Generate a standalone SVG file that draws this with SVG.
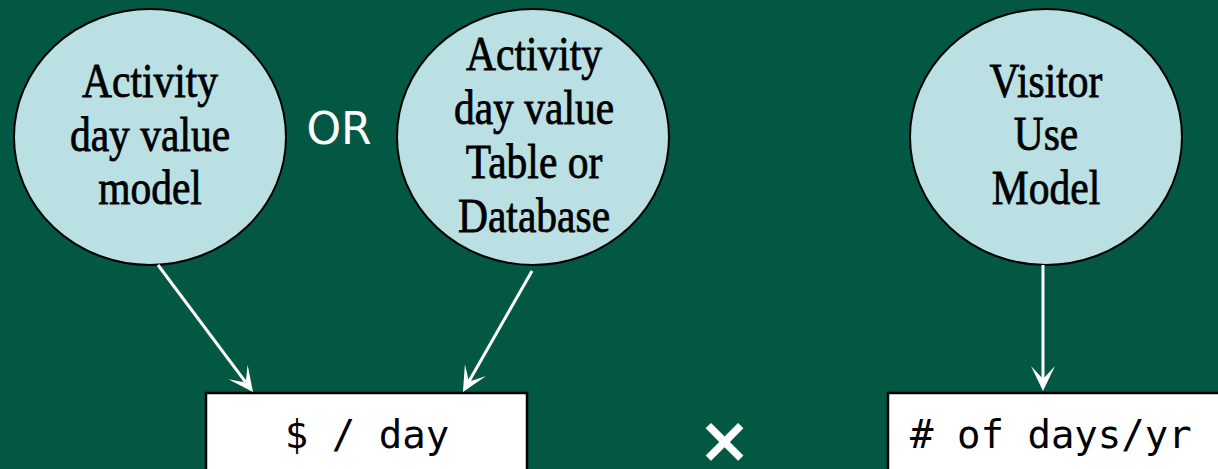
<svg xmlns="http://www.w3.org/2000/svg" width="1218" height="469" viewBox="0 0 1218 469">
<style>
.bubble{fill:#bae0e4;stroke:#000;stroke-width:2}
.lbl{font-family:"Liberation Serif","Times New Roman",serif;font-size:48px;fill:#000;stroke:#000;stroke-width:0.8;text-anchor:middle}
.box{fill:#fff;stroke:#000;stroke-width:2.5}
.mono{font-family:"DejaVu Sans Mono","Liberation Mono",monospace;font-size:39px;fill:#000}
.conn{stroke:#fff;stroke-width:3;fill:none}
</style>
<defs>
<marker id="ah" markerUnits="userSpaceOnUse" markerWidth="40" markerHeight="40" viewBox="-20 -20 40 40" refX="0" refY="0" orient="auto">
<path d="M12,0 L-13,-12 L0,0 L-13,12 Z" fill="#fff"/>
</marker>
</defs>
<rect x="0" y="0" width="1218" height="469" fill="#035844"/>
<g id="node-activity-model">
<ellipse class="bubble" cx="150" cy="137" rx="136" ry="128"/>
<g transform="translate(150,0) scale(0.865,1)">
<text class="lbl" x="0" y="97">Activity</text>
<text class="lbl" x="0" y="151">day value</text>
<text class="lbl" x="0" y="204">model</text>
</g>
</g>
<g id="node-or">
<text x="339" y="144" font-family="DejaVu Sans,sans-serif" font-size="44" fill="#fff" text-anchor="middle">OR</text>
</g>
<g id="node-activity-table">
<ellipse class="bubble" cx="533" cy="137" rx="136" ry="128"/>
<g transform="translate(534,0) scale(0.865,1)">
<text class="lbl" x="0" y="70">Activity</text>
<text class="lbl" x="0" y="124">day value</text>
<text class="lbl" x="0" y="178">Table or</text>
<text class="lbl" x="0" y="232">Database</text>
</g>
</g>
<g id="node-visitor-model">
<ellipse class="bubble" cx="1046" cy="137" rx="136" ry="128"/>
<g transform="translate(1046,0) scale(0.865,1)">
<text class="lbl" x="0" y="97">Visitor</text>
<text class="lbl" x="0" y="150">Use</text>
<text class="lbl" x="0" y="204">Model</text>
</g>
</g>
<g id="node-dollar-day">
<rect class="box" x="206" y="393" width="321" height="100"/>
<text class="mono" x="367" y="448" text-anchor="middle">$ / day</text>
</g>
<g id="node-times">
<text x="724.5" y="462" font-family="DejaVu Sans,sans-serif" font-weight="bold" font-size="64" fill="#fff" text-anchor="middle">×</text>
</g>
<g id="node-days-yr">
<rect class="box" x="888" y="393" width="340" height="100"/>
<text class="mono" x="910" y="448">#&#160;of&#160;days/yr</text>
</g>
<g id="connectors">
<line class="conn" x1="158" y1="265" x2="245.8" y2="382.4" marker-end="url(#ah)"/>
<line class="conn" x1="532" y1="271" x2="468.9" y2="381.6" marker-end="url(#ah)"/>
<line class="conn" stroke-width="2.5" x1="1043" y1="265" x2="1043" y2="379" marker-end="url(#ah)"/>
</g>
</svg>
